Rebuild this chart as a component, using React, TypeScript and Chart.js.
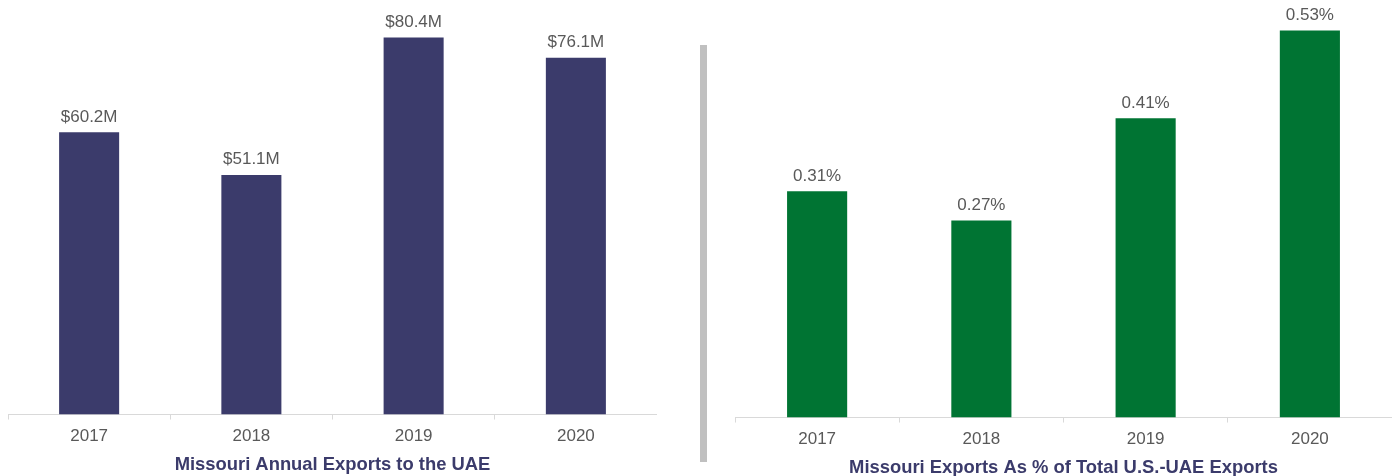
import React, { useEffect, useRef } from "react";
import { Chart, registerables } from "chart.js";

Chart.register(...registerables);

const years = ["2017", "2018", "2019", "2020"];
const exportValues = [60.2, 51.1, 80.4, 76.1];
const shareValues = [0.31, 0.27, 0.41, 0.53];
const leftTitle = "Missouri Annual Exports to the UAE";
const rightTitle = "Missouri Exports As % of Total U.S.-UAE Exports";

const FONT = "'Liberation Sans', Arial, sans-serif";
const NAVY = "#3b3b6b";
const GREEN = "#007433";
const GRAY_TEXT = "#595959";
const AXIS = "#d9d9d9";

const labelPlugin = (fmt: (v: number) => string) => ({
  id: "barLabels",
  afterDatasetsDraw(chart: any) {
    const ctx = chart.ctx;
    const meta = chart.getDatasetMeta(0);
    const data = chart.data.datasets[0].data as number[];
    ctx.save();
    ctx.font = `17px ${FONT}`;
    ctx.fillStyle = GRAY_TEXT;
    ctx.textAlign = "center";
    ctx.textBaseline = "alphabetic";
    meta.data.forEach((bar: any, i: number) => {
      ctx.fillText(fmt(data[i]), bar.x, bar.y - 10.5);
    });
    ctx.restore();
  },
});

function BarChart(props: {
  values: number[];
  color: string;
  max: number;
  title: string;
  fmt: (v: number) => string;
  barPct: number;
  titlePadTop: number;
}) {
  const ref = useRef<HTMLCanvasElement>(null);
  useEffect(() => {
    if (!ref.current) return;
    const chart = new Chart(ref.current, {
      type: "bar",
      data: {
        labels: years,
        datasets: [
          {
            data: props.values,
            backgroundColor: props.color,
            borderWidth: 0,
            categoryPercentage: 1,
            barPercentage: props.barPct,
          },
        ],
      },
      options: {
        animation: false,
        responsive: true,
        maintainAspectRatio: false,
        layout: { padding: { top: 16, left: 0, right: 0, bottom: 0 } },
        plugins: {
          legend: { display: false },
          tooltip: { enabled: false },
        },
        scales: {
          y: { display: false, min: 0, max: props.max },
          x: {
            border: { display: true, color: AXIS, width: 1 },
            grid: {
              drawOnChartArea: false,
              drawTicks: true,
              tickLength: 5,
              color: AXIS,
              offset: true,
            },
            ticks: {
              color: GRAY_TEXT,
              font: { family: FONT, size: 17 },
              padding: 7,
            },
            title: {
              display: true,
              text: props.title,
              color: NAVY,
              font: { family: FONT, size: 18.4, weight: "bold" },
              padding: { top: props.titlePadTop, bottom: 0 },
            },
          },
        },
      },
      plugins: [labelPlugin(props.fmt)],
    });
    return () => chart.destroy();
  }, []);
  return <canvas ref={ref} />;
}

export default function App() {
  return (
    <div
      style={{
        position: "absolute",
        left: 0,
        top: 0,
        width: 1396,
        height: 476,
        background: "#fff",
        overflow: "hidden",
      }}
    >
      <div style={{ position: "absolute", left: 8, top: 0, width: 649, height: 476 }}>
        <BarChart
          values={exportValues}
          color={NAVY}
          max={85}
          title={leftTitle}
          fmt={(v) => `$${v.toFixed(1)}M`}
          barPct={0.37}
          titlePadTop={0}
        />
      </div>
      <div
        style={{
          position: "absolute",
          left: 700,
          top: 45,
          width: 7,
          height: 417,
          background: "#c0c0c0",
        }}
      />
      <div style={{ position: "absolute", left: 735, top: 0, width: 657, height: 479 }}>
        <BarChart
          values={shareValues}
          color={GREEN}
          max={0.55}
          title={rightTitle}
          fmt={(v) => `${v.toFixed(2)}%`}
          barPct={0.366}
          titlePadTop={0}
        />
      </div>
    </div>
  );
}
